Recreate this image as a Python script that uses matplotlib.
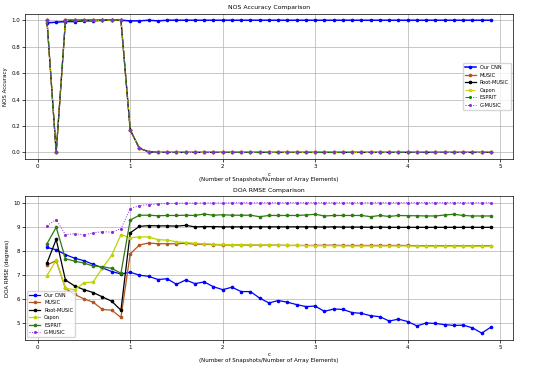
import numpy as np
import matplotlib
matplotlib.use('Agg')
import matplotlib.pyplot as plt

# --- DATA ---
c_values = [round(0.1 * i, 1) for i in range(1, 50)]

# NOS accuracy
acc_cnn = [0.98, 0.985, 0.99, 0.99, 0.995, 0.995, 1.0, 1.0, 1.0, 0.995, 0.995, 1.0, 0.995] + [1.0] * 36
acc_classic = [1.0, 0.0, 1.0, 1.0, 1.0, 1.0, 1.0, 1.0, 1.0, 0.17, 0.03, 0.005] + [0.0] * 37

# DOA RMSE (degrees)
rmse_cnn = [8.15, 8.05, 7.85, 7.7, 7.6, 7.45, 7.3, 7.15, 7.05, 7.12,
            7.0, 6.95, 6.82, 6.85, 6.62, 6.8, 6.65, 6.72, 6.52, 6.4,
            6.5, 6.32, 6.32, 6.05, 5.85, 5.95, 5.88, 5.78, 5.7, 5.72,
            5.5, 5.6, 5.58, 5.45, 5.42, 5.32, 5.28, 5.1, 5.18, 5.08,
            4.9, 5.02, 5.0, 4.95, 4.92, 4.93, 4.82, 4.6, 4.85]
rmse_music = [7.42, 7.6, 6.45, 6.2, 6.02, 5.88, 5.58, 5.55, 5.25, 7.88,
              8.25, 8.33, 8.3, 8.3, 8.3, 8.32, 8.28, 8.28, 8.26, 8.25,
              8.25, 8.25, 8.24, 8.24, 8.24, 8.24, 8.23, 8.23, 8.23, 8.23,
              8.24, 8.24, 8.23, 8.23, 8.23, 8.23, 8.23, 8.23, 8.23, 8.23,
              8.22, 8.22, 8.22, 8.22, 8.22, 8.22, 8.22, 8.22, 8.22]
rmse_root = [7.5, 8.48, 6.8, 6.55, 6.4, 6.28, 6.1, 5.92, 5.55, 8.75,
             9.02, 9.05, 9.04, 9.04, 9.03, 9.06, 9.0, 9.01, 9.01, 9.0,
             9.0, 9.0, 9.0, 9.0, 9.0, 9.0, 9.0, 9.0, 9.0, 9.0,
             8.99, 9.0, 8.99, 8.99, 8.99, 8.98, 8.99, 8.98, 8.98, 8.98,
             8.98, 8.98, 8.98, 8.98, 8.98, 8.98, 8.98, 8.98, 8.98]
rmse_capon = [6.98, 7.62, 6.45, 6.4, 6.68, 6.72, 7.3, 7.82, 8.68, 8.55,
              8.58, 8.58, 8.47, 8.45, 8.38, 8.35, 8.32, 8.3, 8.28, 8.27,
              8.26, 8.25, 8.25, 8.24, 8.24, 8.23, 8.23, 8.23, 8.22, 8.22,
              8.22, 8.22, 8.21, 8.21, 8.21, 8.21, 8.21, 8.21, 8.21, 8.21,
              8.2, 8.2, 8.2, 8.2, 8.2, 8.2, 8.2, 8.2, 8.2]
rmse_esprit = [8.3, 8.98, 7.68, 7.58, 7.5, 7.38, 7.35, 7.28, 7.08, 9.28,
               9.48, 9.48, 9.46, 9.47, 9.47, 9.48, 9.47, 9.53, 9.48, 9.5,
               9.48, 9.48, 9.48, 9.42, 9.47, 9.47, 9.47, 9.47, 9.49, 9.52,
               9.45, 9.47, 9.47, 9.47, 9.47, 9.42, 9.47, 9.43, 9.47, 9.46,
               9.46, 9.45, 9.45, 9.49, 9.52, 9.47, 9.45, 9.45, 9.45]
rmse_gmusic = [9.05, 9.3, 8.67, 8.72, 8.67, 8.75, 8.8, 8.78, 8.92, 9.75,
               9.88, 9.92, 9.95, 9.97, 9.97, 9.98, 9.98, 9.99, 9.99, 9.99] + [10.0] * 29

labels = ['Our CNN', 'MUSIC', 'Root-MUSIC', 'Capon', 'ESPRIT', 'G-MUSIC']

plt.rcParams['font.size'] = 4

fig = plt.figure(figsize=(5.5, 3.68), dpi=100)
ax1 = fig.add_axes([0.045, 0.568, 0.888, 0.395])
ax2 = fig.add_axes([0.045, 0.077, 0.888, 0.39])

# --- NOS ACCURACY ---
ms = 1.6
lw = 0.9
ax1.plot(c_values, acc_cnn, color='blue', marker='o', ms=ms, lw=1.1, label=labels[0])
ax1.plot(c_values, acc_classic, color='#c0501a', marker='o', ms=ms, lw=lw, label=labels[1])
ax1.plot(c_values, acc_classic, color='black', marker='o', ms=ms, lw=lw, label=labels[2])
ax1.plot(c_values, acc_classic, color='#d8d800', marker='x', ms=2, lw=0.8, ls='--', label=labels[3])
ax1.plot(c_values, acc_classic, color='green', marker='o', ms=1.2, lw=0.7, ls='-.', label=labels[4])
ax1.plot(c_values, acc_classic, color='blueviolet', marker='o', ms=1.2, lw=0.7, ls=':', label=labels[5])
ax1.set_title('NOS Accuracy Comparison', fontsize=4.4, pad=3)
ax1.set_ylabel('NOS Accuracy', labelpad=2)
ax1.set_xlabel('c\n(Number of Snapshots/Number of Array Elements)', labelpad=2)
ax1.grid(True, lw=0.5)
ax1.legend(loc='center right', fontsize=3.6, framealpha=0.8, handlelength=2.2)

# --- DOA RMSE ---
ax2.plot(c_values, rmse_cnn, color='blue', marker='o', ms=ms, lw=lw, label=labels[0])
ax2.plot(c_values, rmse_music, color='#b5541c', marker='o', ms=ms, lw=lw, label=labels[1])
ax2.plot(c_values, rmse_root, color='black', marker='o', ms=ms, lw=lw, label=labels[2])
ax2.plot(c_values, rmse_capon, color='#bcd400', marker='o', ms=ms, lw=lw, label=labels[3])
ax2.plot(c_values, rmse_esprit, color='#2f7a12', marker='o', ms=ms, lw=lw, label=labels[4])
ax2.plot(c_values, rmse_gmusic, color='blueviolet', marker='o', ms=1.2, lw=0.7, ls=':', label=labels[5])
ax2.set_title('DOA RMSE Comparison', fontsize=4.4, pad=3)
ax2.set_ylabel('DOA RMSE (degrees)', labelpad=2)
ax2.set_xlabel('c\n(Number of Snapshots/Number of Array Elements)', labelpad=2)
ax2.grid(True, lw=0.5)
ax2.legend(loc='lower left', fontsize=3.6, framealpha=0.8, handlelength=2.2)

for ax in (ax1, ax2):
    ax.tick_params(length=2, pad=1.5, width=0.5)
    for s in ax.spines.values():
        s.set_linewidth(0.5)

fig.savefig('out.png', dpi=100)
